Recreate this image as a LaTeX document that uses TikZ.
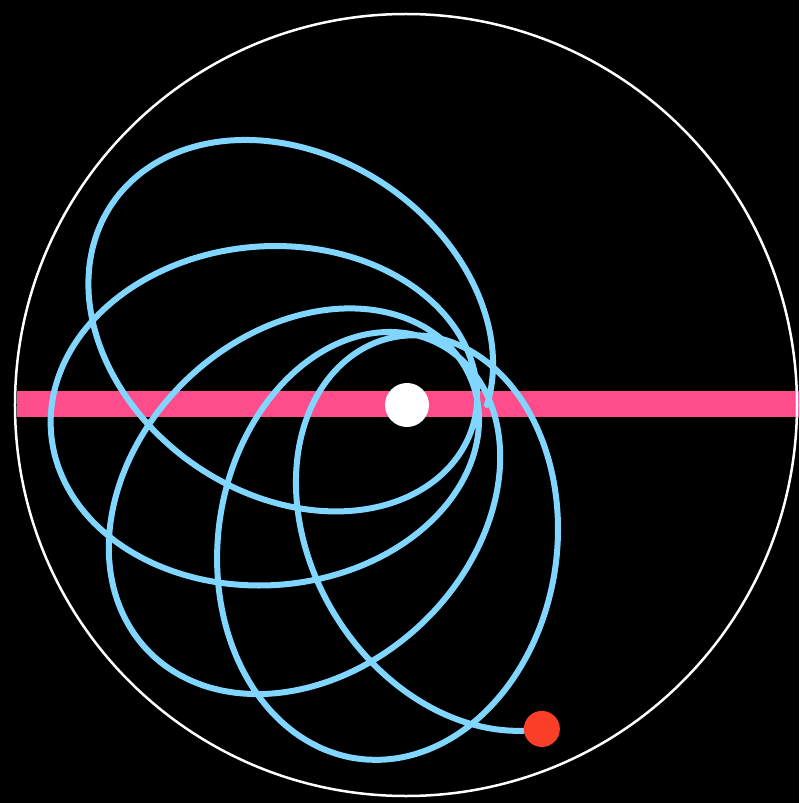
\documentclass[tikz,border=0pt]{standalone}

\definecolor{orbitblue}{RGB}{128,214,255}
\definecolor{bandpink}{RGB}{255,77,140}
\definecolor{probered}{RGB}{250,62,40}

% radius of the precessing orbit at angle #1 (degrees)
\newcommand{\orbitr}[1]{115.7/(1-0.676*cos(0.9027*((#1)-145.6)))}

\begin{document}
\begin{tikzpicture}[
    x=0.01cm, y=0.01cm,
    orbit/.style={draw=orbitblue, line width=0.06cm, line join=round, line cap=round},
    band/.style={fill=bandpink},
    dot/.style={circle, inner sep=0pt, minimum size=#1}
]

\fill[black] (-407,-398) rectangle (392,405);
\useasboundingbox (-407,-398) rectangle (392,405);

% horizontal band
\fill[band] (-390,-12) rectangle (392,14);

% orbit
\draw[orbit] plot[smooth, samples=700, domain=0:1732.6, variable=\x]
    ({\orbitr{\x}*cos(\x)}, {\orbitr{\x}*sin(\x)});

% rim
\draw[white, line width=0.025cm] (-1,0) circle (391);

\node[dot=0.44cm, fill=white] (sun) at (0,0) {};
\coordinate (tip) at ({\orbitr{1732.6}*cos(1732.6)}, {\orbitr{1732.6}*sin(1732.6)});
\node[dot=0.36cm, fill=probered] (probe) at (tip) {};

\end{tikzpicture}
\end{document}
